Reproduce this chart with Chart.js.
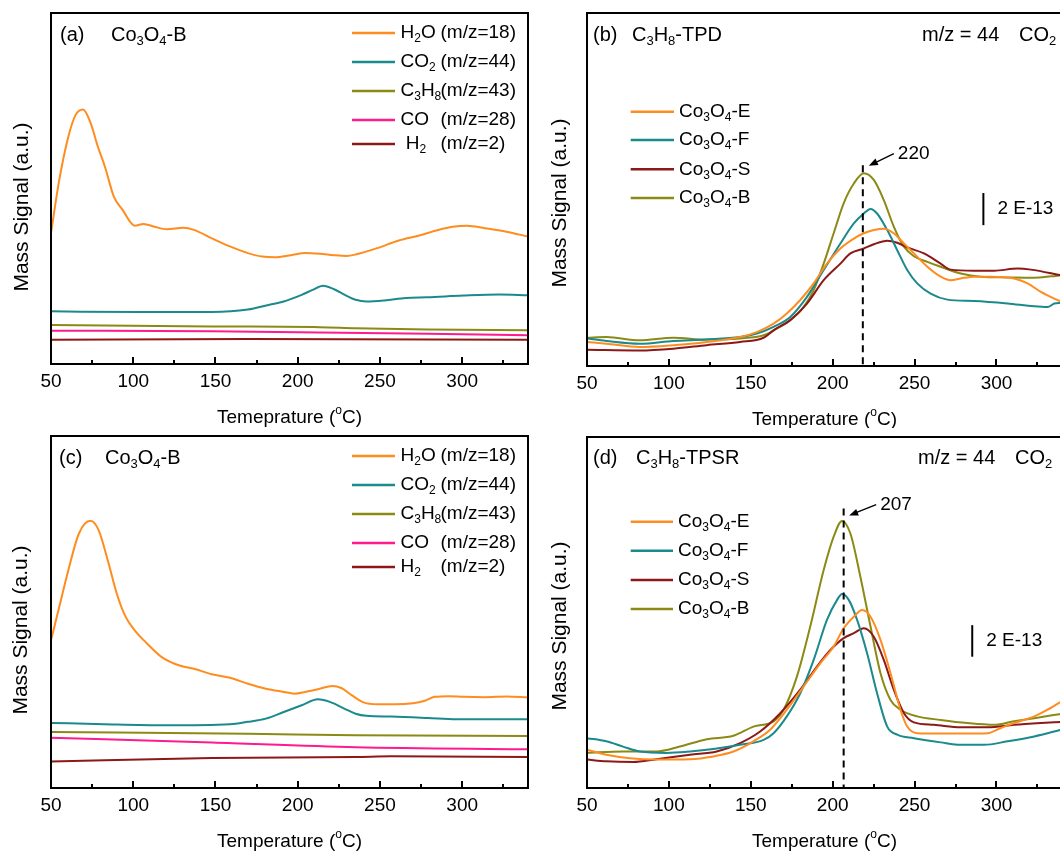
<!DOCTYPE html>
<html>
<head>
<meta charset="utf-8">
<script src="https://cdn.jsdelivr.net/npm/chart.js@4.4.1/dist/chart.umd.min.js"></script>
<style>
html,body{margin:0;padding:0;background:#fff;overflow:hidden;width:1060px;height:851px;position:relative;}
canvas{position:absolute;}
</style>
</head>
<body>
<canvas id="ca" width="540" height="428" style="left:0;top:0"></canvas>
<canvas id="cb" width="540" height="428" style="left:540px;top:0"></canvas>
<canvas id="cc" width="540" height="428" style="left:0;top:423px"></canvas>
<canvas id="cd" width="540" height="428" style="left:540px;top:423px"></canvas>
<script>
// ---------------- DATA ----------------
const X_TICKS = [50, 100, 150, 200, 250, 300];
const X_MINOR = [75, 125, 175, 225, 275, 325];

// Panel (a)  Co3O4-B, TPD, several m/z
const a_H2O_T = [50,55,60.5,64.9,69.5,74.2,78.5,82.8,88.2,93.5,100.9,106.3,112.9,120.5,130.4,136.9,147.8,158.8,169.7,178.4,186.1,195.9,204.6,213.4,222.1,229.7,235.2,248.3,261.4,274.5,285.4,294.2,302.9,313.8,326.9,340];
const a_H2O_V = [37.3,52.4,64.7,70.9,72.5,68.5,61.9,56.2,47.7,43.9,39.4,39.9,39.1,38.4,38.8,38.2,35.8,33.5,31.6,30.6,30.4,31.0,31.6,31.4,31.0,30.8,31.2,33.0,35.2,36.7,38.2,39.1,39.4,38.7,37.7,36.3];
const a_CO2_T = [50,104,147.8,169.7,182.8,191.5,202.4,209,215.5,222.1,228.6,235.2,241.8,252.7,265.8,278.9,300.7,322.6,340];
const a_CO2_V = [15.0,14.8,14.8,15.5,16.9,17.8,19.7,21.1,22.3,21.3,19.7,18.3,17.8,18.1,18.8,19.0,19.5,19.8,19.6];
const a_C3H8_T = [50,147.8,213.4,235.2,278.9,340];
const a_C3H8_V = [11.1,10.7,10.5,10.2,9.8,9.6];
const a_CO_T = [50,147.8,213.4,278.9,340];
const a_CO_V = [9.5,9.3,9.0,8.6,8.2];
const a_H2_T = [50,169.7,340];
const a_H2_V = [6.9,7.1,6.9];

// Panel (b)  C3H8-TPD, m/z = 44
const b_E_T = [50,61.8,82.2,102.7,123.1,143.5,153.7,163.9,172,180.2,188.4,196.5,204.7,212.9,219,225.1,231.2,237.3,243.5,249.6,257.8,265.9,272,278.2,286.3,296.5,310.8,319,327.1,339.4];
const b_E_V = [6.8,6.3,5.4,5.9,6.8,8.2,9.6,12.0,14.9,18.7,23.4,29.0,33.3,36.1,37.6,38.5,38.9,37.6,34.7,31.9,28.1,25.3,24.3,24.8,25.3,25.3,24.8,23.4,21.0,18.2];
const b_F_T = [50,61.8,82.2,102.7,123.1,143.5,153.7,163.9,174.1,184.3,194.5,204.7,212.9,219,223.1,227.1,233.3,239.4,245.5,251.6,259.8,270,286.3,306.7,323,331.2,335.3,339.4];
const b_F_V = [7.8,7.1,6.3,7.1,7.5,8.2,9.2,11.1,13.9,19.6,27.2,34.7,40.4,43.2,44.5,43.2,38.5,32.8,27.2,23.4,20.5,18.8,18.4,17.7,16.9,16.7,17.7,17.9];
const b_S_T = [50,82.2,102.7,123.1,143.5,157.8,163.9,174.1,184.3,194.5,204.7,210.8,219,225.1,233.3,239.4,245.5,255.7,265.9,272,286.3,298.6,312.9,321,339.4];
const b_S_V = [4.6,4.4,4.9,5.9,6.8,8.0,10.1,13.0,17.7,24.3,29.0,31.9,33.3,34.5,35.5,34.9,33.6,31.9,29.0,27.3,27.0,27.0,27.6,27.3,25.7];
const b_B_T = [50,61.8,82.2,102.7,123.1,143.5,157.8,163.9,174.1,182.2,188.4,194.5,200.6,206.7,212.9,219,225.1,231.2,237.3,243.5,249.6,257.8,265.9,278.2,290.4,306.7,323,333.3,339.4];
const b_B_V = [8.0,8.2,7.3,8.0,7.5,7.8,8.7,10.1,13.0,16.7,21.5,29.0,37.6,46.1,51.7,54.6,52.7,47.0,39.5,33.8,31.1,29.5,28.1,26.2,25.3,25.1,25.0,25.4,25.7];

// Panel (c)  Co3O4-B, several m/z
const c_H2O_T = [50,55,60.5,67,74,79,84.5,90,95.4,100.9,108.5,117.3,128.2,136.9,147.8,158.8,169.7,180.6,191.5,198.1,204.6,213.4,221,226.5,233,239.6,248.3,259.2,270.1,276.7,283.3,292,300.7,313.8,326.9,340];
const c_H2O_V = [42.0,51.4,61.8,72.3,75.9,73.2,64.7,55.2,48.6,44.8,41.0,37.2,34.8,33.9,32.3,31.3,29.6,28.2,27.3,26.8,27.3,28.2,29.0,28.4,26.3,24.4,23.8,23.8,24.1,24.7,25.9,26.1,25.9,25.8,26.0,25.7];
const c_CO2_T = [50,82.3,119.5,158.8,169.7,180.6,191.5,202.4,212.3,219.9,228.6,235.2,241.8,257,278.9,296.4,340];
const c_CO2_V = [18.5,18.1,17.8,18.1,18.8,19.7,21.6,23.5,25.2,24.4,22.5,21.1,20.5,20.3,19.9,19.5,19.5];
const c_C3H8_T = [50,169.7,235,340];
const c_C3H8_V = [15.9,15.4,15.0,14.8];
const c_CO_T = [50,147.8,235.2,340];
const c_CO_V = [14.3,12.9,11.6,11.0];
const c_H2_T = [50,147.8,235.2,257,340];
const c_H2_V = [7.5,8.5,8.8,9.0,8.8];

// Panel (d)  C3H8-TPSR, m/z = 44
const d_E_T = [50,61.8,76.1,92.4,112.9,127.1,139.4,151.6,161.8,172,182.2,192.4,200.6,206.7,212.9,218,223.1,229.2,235.3,241.4,245.5,251.6,265.9,282.2,294.5,302.7,310.8,323.1,331.2,339.4];
const d_E_V = [10.9,9.5,8.5,8.1,8.2,9.0,10.4,13.3,16.6,22.3,28.9,35.5,40.3,45.5,48.8,50.7,48.8,42.2,32.7,22.3,17.5,15.6,15.5,15.5,15.6,17.1,18.5,20.4,22.3,24.6];
const d_F_T = [50,61.8,72,82.2,98.6,112.9,127.1,143.5,157.8,163.9,172,180.2,188.4,196.5,202.7,205.7,209.8,214.9,221,227.1,233.3,239.4,249.6,265.9,278.2,292.4,306.7,323.1,339.4];
const d_F_V = [14.2,13.3,11.8,10.4,10.0,10.4,11.1,12.3,13.7,15.6,20.4,27.0,36.5,47.9,53.6,55.3,53.6,47.9,38.4,27.0,17.5,15.2,14.2,13.0,12.3,12.3,13.3,14.7,16.6];
const d_S_T = [50,61.8,78.2,92.4,112.9,129.2,143.5,155.7,168,180.2,190.4,198.6,206.7,212.9,219,225.1,231.2,237.3,243.5,249.6,261.8,278.2,294.5,310.8,327.1,339.4];
const d_S_V = [8.1,7.6,7.4,8.2,9.5,10.4,12.8,16.1,21.3,28.0,34.6,39.3,42.7,44.1,45.5,43.1,36.5,28.0,21.3,18.7,18.0,17.3,17.3,18.0,18.5,18.8];
const d_B_T = [50,72,92.4,106.7,123.1,139.4,151.6,163.9,170,178.2,186.3,194.5,200.6,205.7,210.8,216.9,223.1,229.2,235.3,241.4,251.6,265.9,282.2,298.6,310.8,323.1,339.4];
const d_B_V = [10.0,10.4,10.4,11.8,13.9,14.9,17.5,19.0,22.3,31.8,46.0,62.1,71.6,76.1,72.5,60.2,46.0,32.7,25.1,22.3,20.4,19.4,18.5,18.0,19.0,19.9,21.1];

// annotations (values in data units)
const b_PEAK = {x: 218.4, yTop: 56.9, label: '220'};
const d_PEAK = {x: 206.7, yTop: 79.6, label: '207'};
const b_BAR = {x: 292, y1: 49.0, y2: 39.9, label: '2 E-13'};
const d_BAR = {x: 285.2, y1: 46.4, y2: 37.4, label: '2 E-13'};

// ---------------- STYLE / LAYOUT ----------------
const FONT = '"Liberation Sans", Arial, Helvetica, sans-serif';
const C_OR = '#ff8c1f', C_TE = '#1a8a8c', C_OL = '#8a8a14', C_PK = '#ff1a8e', C_DR = '#8c1818';

function pts(T, V) { return T.map((t, i) => ({x: t, y: V[i]})); }

function rich(ctx, str, x, y, size, align) {
  const parts = [];
  for (let i = 0; i < str.length; i++) {
    const ch = str[i];
    if (ch === '_') parts.push({t: str[++i], m: 1});
    else if (ch === '^') parts.push({t: str[++i], m: 2});
    else {
      const last = parts[parts.length - 1];
      if (last && last.m === 0) last.t += ch; else parts.push({t: ch, m: 0});
    }
  }
  const small = Math.round(size * 0.64);
  let w = 0;
  parts.forEach(p => { ctx.font = (p.m ? small : size) + 'px ' + FONT; p.w = ctx.measureText(p.t).width; w += p.w; });
  let cx = align === 'center' ? x - w / 2 : x;
  ctx.textBaseline = 'middle'; ctx.textAlign = 'left'; ctx.fillStyle = '#000';
  parts.forEach(p => {
    ctx.font = (p.m ? small : size) + 'px ' + FONT;
    const dy = p.m === 1 ? size * 0.32 : (p.m === 2 ? -size * 0.36 : 0);
    ctx.fillText(p.t, cx, y + dy);
    cx += p.w;
  });
  return w;
}

function decor(cfg) {
  return {
    id: 'decor',
    afterDatasetsDraw(chart) {
      const ctx = chart.ctx, a = chart.chartArea, xs = chart.scales.x, ys = chart.scales.y;
      ctx.save();
      ctx.strokeStyle = '#000'; ctx.lineWidth = 2; ctx.setLineDash([]);
      ctx.strokeRect(a.left, a.top, a.right - a.left, a.bottom - a.top);
      X_TICKS.concat(X_MINOR).forEach(t => {
        const px = Math.round(xs.getPixelForValue(t));
        const len = X_TICKS.includes(t) ? 7 : 4;
        ctx.beginPath(); ctx.moveTo(px, a.bottom); ctx.lineTo(px, a.bottom - len); ctx.stroke();
      });
      // headers
      cfg.headers.forEach(h => rich(ctx, h.t, a.left + h.dx, a.top + h.dy, 20, 'left'));
      // legend
      const L = cfg.legend;
      chart.data.datasets.forEach((ds, i) => {
        const y = a.top + L.rows[i];
        ctx.strokeStyle = ds.borderColor; ctx.lineWidth = 2.5;
        ctx.beginPath(); ctx.moveTo(a.left + L.x0, y); ctx.lineTo(a.left + L.x1, y); ctx.stroke();
        rich(ctx, ds.label, a.left + L.tx, y, 19, 'left');
        if (ds.mz) rich(ctx, ds.mz, a.left + L.mx, y, 19, 'left');
      });
      // axis titles
      rich(ctx, cfg.xTitle, (a.left + a.right) / 2 + cfg.xtdx, a.bottom + 54, 19, 'center');
      ctx.save();
      ctx.translate(cfg.ytx, a.top + cfg.yty);
      ctx.rotate(-Math.PI / 2);
      rich(ctx, 'Mass Signal (a.u.)', 0, 0, 21, 'center');
      ctx.restore();
      // peak marker
      if (cfg.peak) {
        const p = cfg.peak, px = xs.getPixelForValue(p.x), pt = ys.getPixelForValue(p.yTop);
        ctx.strokeStyle = '#000'; ctx.lineWidth = 2; ctx.setLineDash([7, 5]);
        ctx.beginPath(); ctx.moveTo(px, pt); ctx.lineTo(px, a.bottom); ctx.stroke();
        ctx.setLineDash([]);
        const tipX = px + cfg.arrow.tx, tipY = pt + cfg.arrow.ty;
        const tailX = tipX + cfg.arrow.dx, tailY = tipY + cfg.arrow.dy;
        ctx.lineWidth = 1.3;
        ctx.beginPath(); ctx.moveTo(tailX, tailY); ctx.lineTo(tipX + 5, tipY - 2.2); ctx.stroke();
        const ang = Math.atan2(tipY - tailY, tipX - tailX);
        ctx.fillStyle = '#000';
        ctx.beginPath();
        ctx.moveTo(tipX, tipY);
        ctx.lineTo(tipX - 9 * Math.cos(ang) + 3.5 * Math.sin(ang), tipY - 9 * Math.sin(ang) - 3.5 * Math.cos(ang));
        ctx.lineTo(tipX - 9 * Math.cos(ang) - 3.5 * Math.sin(ang), tipY - 9 * Math.sin(ang) + 3.5 * Math.cos(ang));
        ctx.closePath(); ctx.fill();
        rich(ctx, p.label, tailX + 4, tailY, 19, 'left');
      }
      if (cfg.bar) {
        const b = cfg.bar, bx = xs.getPixelForValue(b.x);
        const y1 = ys.getPixelForValue(b.y1), y2 = ys.getPixelForValue(b.y2);
        ctx.strokeStyle = '#000'; ctx.lineWidth = 2;
        ctx.beginPath(); ctx.moveTo(bx, y1); ctx.lineTo(bx, y2); ctx.stroke();
        rich(ctx, b.label, bx + 14, (y1 + y2) / 2, 19, 'left');
      }
      ctx.restore();
    }
  };
}

function make(id, cfg) {
  return new Chart(document.getElementById(id), {
    type: 'line',
    data: {
      datasets: cfg.sets.map(s => ({
        label: s.label, mz: s.mz, data: pts(s.T, s.V), borderColor: s.color,
        borderWidth: 2, pointRadius: 0, fill: false, cubicInterpolationMode: 'monotone'
      }))
    },
    options: {
      responsive: false, animation: false, devicePixelRatio: 1,
      layout: {padding: cfg.pad},
      plugins: {legend: {display: false}, tooltip: {enabled: false}, title: {display: false}},
      scales: {
        x: {
          type: 'linear', min: 50, max: 340, position: 'bottom',
          afterFit: s => { s.height = cfg.axisH; },
          afterBuildTicks: s => { s.ticks = X_TICKS.map(v => ({value: v})); },
          grid: {display: false, drawTicks: false}, border: {display: false},
          ticks: {padding: 6, color: '#000', font: {family: FONT, size: 19}, maxRotation: 0, autoSkip: false}
        },
        y: {display: false, min: 0, max: 100}
      }
    },
    plugins: [decor(cfg)]
  });
}

const LEG_AC = {rows: [20, 49, 78, 107, 131], x0: 301, x1: 344, tx: 349.5, mx: 389.5};

make('ca', {
  pad: {left: 51, top: 13, right: 12, bottom: 0}, axisH: 64,
  sets: [
    {label: 'H_2O', mz: '(m/z=18)', T: a_H2O_T, V: a_H2O_V, color: C_OR},
    {label: 'CO_2', mz: '(m/z=44)', T: a_CO2_T, V: a_CO2_V, color: C_TE},
    {label: 'C_3H_8', mz: '(m/z=43)', T: a_C3H8_T, V: a_C3H8_V, color: C_OL},
    {label: 'CO', mz: '(m/z=28)', T: a_CO_T, V: a_CO_V, color: C_PK},
    {label: ' H_2', mz: '(m/z=2)', T: a_H2_T, V: a_H2_V, color: C_DR}
  ],
  headers: [{t: '(a)', dx: 9, dy: 22}, {t: 'Co_3O_4-B', dx: 60, dy: 22}],
  legend: LEG_AC, xTitle: 'Temeprature (^oC)', xtdx: 0, ytx: 22, yty: 194
});

make('cb', {
  pad: {left: 47, top: 13, right: 18, bottom: 0}, axisH: 62,
  sets: [
    {label: 'Co_3O_4-E', T: b_E_T, V: b_E_V, color: C_OR},
    {label: 'Co_3O_4-F', T: b_F_T, V: b_F_V, color: C_TE},
    {label: 'Co_3O_4-S', T: b_S_T, V: b_S_V, color: C_DR},
    {label: 'Co_3O_4-B', T: b_B_T, V: b_B_V, color: C_OL}
  ],
  headers: [{t: '(b)', dx: 6, dy: 22}, {t: 'C_3H_8-TPD', dx: 45, dy: 22}, {t: 'm/z = 44', dx: 335, dy: 22}, {t: 'CO_2', dx: 432, dy: 22}],
  legend: {rows: [98.7, 127, 156.3, 185], x0: 43.7, x1: 87, tx: 92},
  xTitle: 'Temperature (^oC)', xtdx: 0, ytx: 20, yty: 190,
  peak: b_PEAK, arrow: {tx: 6, ty: 0.5, dx: 25, dy: -12}, bar: b_BAR
});

make('cc', {
  pad: {left: 51, top: 13, right: 12, bottom: 0}, axisH: 63,
  sets: [
    {label: 'H_2O', mz: '(m/z=18)', T: c_H2O_T, V: c_H2O_V, color: C_OR},
    {label: 'CO_2', mz: '(m/z=44)', T: c_CO2_T, V: c_CO2_V, color: C_TE},
    {label: 'C_3H_8', mz: '(m/z=43)', T: c_C3H8_T, V: c_C3H8_V, color: C_OL},
    {label: 'CO', mz: '(m/z=28)', T: c_CO_T, V: c_CO_V, color: C_PK},
    {label: 'H_2', mz: '(m/z=2)', T: c_H2_T, V: c_H2_V, color: C_DR}
  ],
  headers: [{t: '(c)', dx: 8, dy: 22}, {t: 'Co_3O_4-B', dx: 54, dy: 22}],
  legend: LEG_AC, xTitle: 'Temperature (^oC)', xtdx: 0, ytx: 21, yty: 194
});

make('cd', {
  pad: {left: 47, top: 14, right: 18, bottom: 0}, axisH: 63,
  sets: [
    {label: 'Co_3O_4-E', T: d_E_T, V: d_E_V, color: C_OR},
    {label: 'Co_3O_4-F', T: d_F_T, V: d_F_V, color: C_TE},
    {label: 'Co_3O_4-S', T: d_S_T, V: d_S_V, color: C_DR},
    {label: 'Co_3O_4-B', T: d_B_T, V: d_B_V, color: C_OL}
  ],
  headers: [{t: '(d)', dx: 6, dy: 21}, {t: 'C_3H_8-TPSR', dx: 49, dy: 21}, {t: 'm/z = 44', dx: 331, dy: 21}, {t: 'CO_2', dx: 428, dy: 21}],
  legend: {rows: [84.7, 113.7, 143, 172], x0: 43.7, x1: 86, tx: 91},
  xTitle: 'Temperature (^oC)', xtdx: 0, ytx: 20, yty: 189,
  peak: d_PEAK, arrow: {tx: 5.5, ty: 7, dx: 27, dy: -11}, bar: d_BAR
});
</script>
</body>
</html>
